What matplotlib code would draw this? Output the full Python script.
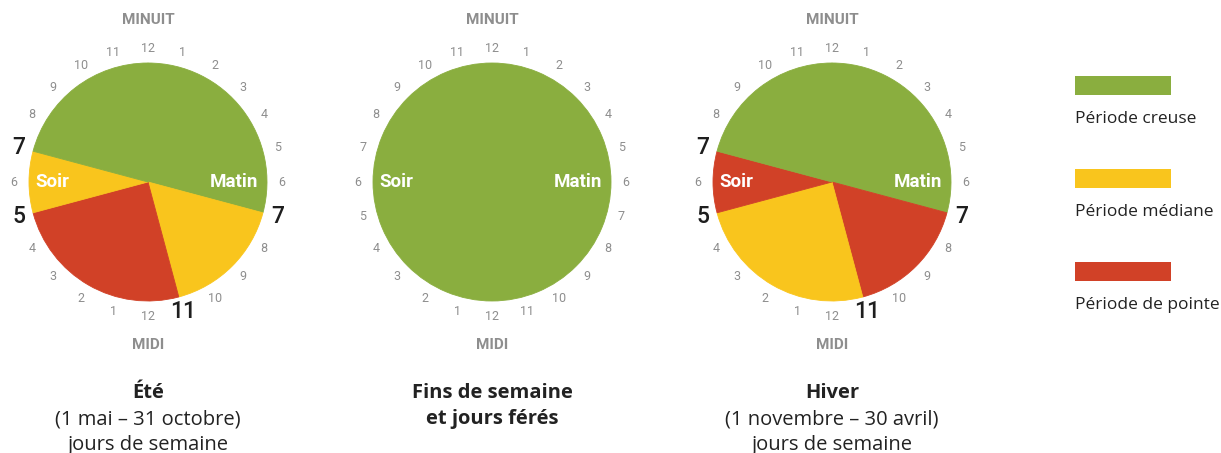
import numpy as np
import matplotlib.pyplot as plt
from matplotlib.patches import Rectangle

# DONNÉES
periodes = ["Période creuse", "Période médiane", "Période de pointe"]
couleurs = ["#8aae3f", "#f9c51d", "#d14127"]

# bornes horaires (0 = minuit) et période de chaque tranche
ete_bornes = [0, 7, 11, 17, 19, 24]
ete_per = [0, 1, 2, 1, 0]
wk_bornes = [0, 24]
wk_per = [0]
hiver_bornes = [0, 7, 11, 17, 19, 24]
hiver_per = [0, 2, 1, 2, 0]

heures_cles = [7, 11, 17, 19]   # heures en gros caractères

titres_gras = [["Été"], ["Fins de semaine", "et jours férés"], ["Hiver"]]
sous_titres = [["(1 mai – 31 octobre)", "jours de semaine"], [],
               ["(1 novembre – 30 avril)", "jours de semaine"]]

# MISE EN PAGE (pixels)
W, H = 1221, 453
centres_x = [148, 492, 832]
CY = H - 182
R = 119
R_LAB = 134
GRIS = "#8e8e8e"

fig = plt.figure(figsize=(W / 100, H / 100), dpi=100)
ax = fig.add_axes([0, 0, 1, 1])

horloges = [(ete_bornes, ete_per, True), (wk_bornes, wk_per, False),
            (hiver_bornes, hiver_per, True)]

for cx, (bornes, per, cles) in zip(centres_x, horloges):
    tailles = np.diff(bornes)
    cols = [couleurs[p] for p in per]
    wedges, _ = ax.pie(tailles, colors=cols, startangle=90, counterclock=False,
                       center=(cx, CY), radius=R, wedgeprops=dict(linewidth=0))
    for w, c in zip(wedges, cols):
        w.set_edgecolor(c)
        w.set_linewidth(0.6)

    # étiquettes des heures
    for h in range(24):
        a = np.radians(90 - 15 * h)
        x = cx + R_LAB * np.cos(a)
        y = CY + R_LAB * np.sin(a)
        lab = str(h % 12 if h % 12 else 12)
        if cles and h in heures_cles:
            ax.text(x, y, lab, ha="center", va="center", fontsize=16.5,
                    color="#1e1e1e", family="Roboto", weight="medium")
        else:
            ax.text(x, y, lab, ha="center", va="center", fontsize=9,
                    color=GRIS, family="Roboto")

    ax.text(cx, H - 20, "MINUIT", ha="center", va="center", fontsize=11,
            color=GRIS, family="Roboto", weight="bold")
    ax.text(cx, H - 345, "MIDI", ha="center", va="center", fontsize=11,
            color=GRIS, family="Roboto", weight="bold")
    ax.text(cx - 113, CY, "Soir", ha="left", va="center", fontsize=13.5,
            color="white", family="Roboto", weight="bold")
    ax.text(cx + 110, CY, "Matin", ha="right", va="center", fontsize=13.5,
            color="white", family="Roboto", weight="bold")

# TITRES
for cx, tg, st in zip(centres_x, titres_gras, sous_titres):
    y = 393
    for t in tg:
        ax.text(cx, H - y, t, ha="center", va="center", fontsize=14.5,
                family="Open Sans", weight="bold", color="#222222")
        y += 26
    for t in st:
        ax.text(cx, H - y, t, ha="center", va="center", fontsize=14.5,
                family="Open Sans", color="#222222")
        y += 26

# LÉGENDE
for i, (nom, c) in enumerate(zip(periodes, couleurs)):
    y0 = 76 + i * 93
    ax.add_patch(Rectangle((1075, H - y0 - 19), 96, 19, color=c, lw=0))
    ax.text(1075, H - (y0 + 43), nom, ha="left", va="center", fontsize=12.5,
            family="Open Sans", color="#222222")

ax.set_xlim(0, W)
ax.set_ylim(0, H)
ax.set_aspect("equal")
ax.axis("off")

fig.savefig("out.png", dpi=100)
